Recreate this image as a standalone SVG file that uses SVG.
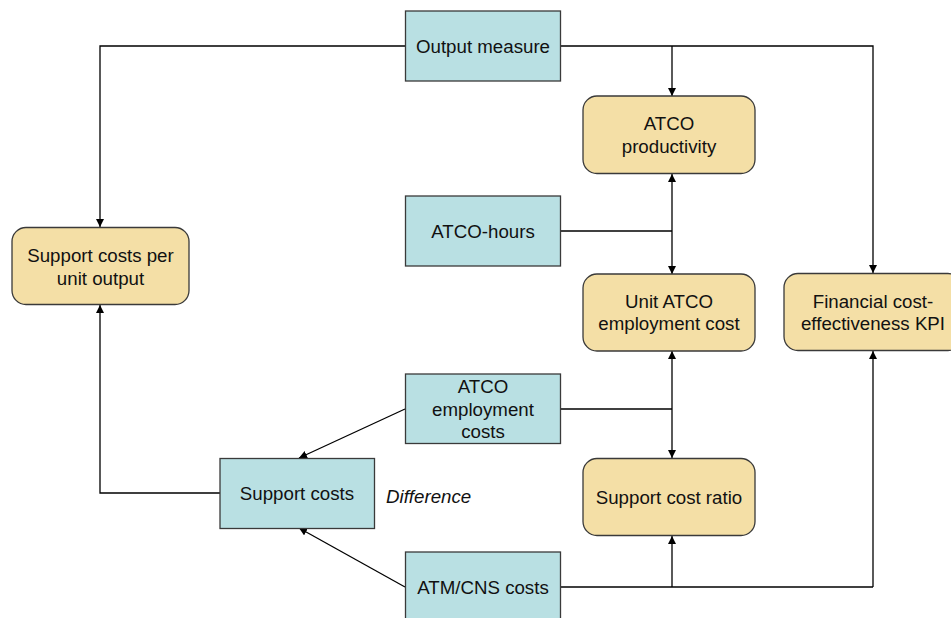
<svg xmlns="http://www.w3.org/2000/svg" width="951" height="618" viewBox="0 0 951 618">
<defs>
<marker id="ah" viewBox="0 0 10 10" refX="10" refY="5" markerWidth="8" markerHeight="8" markerUnits="userSpaceOnUse" orient="auto">
<path d="M0,0 L10,5 L0,10 z" fill="#000"/>
</marker>
<style>
.in{fill:#B9E0E3;stroke:#3a3a3a;stroke-width:1.3}
.kpi{fill:#F4DFA6;stroke:#3a3a3a;stroke-width:1.3}
text{font-family:"Liberation Sans",Arial,sans-serif;font-size:18.7px;fill:#111;text-anchor:middle}
.c{fill:none;stroke:#000;stroke-width:1.3}
.a{marker-end:url(#ah)}
</style>
</defs>
<rect width="951" height="618" fill="#fff"/>
<g id="connectors">
<path class="c" d="M405,46 H100 V227" style="marker-end:url(#ah)"/>
<path class="c" d="M560,46 H873 V273" style="marker-end:url(#ah)"/>
<path class="c a" d="M672,46 V96"/>
<path class="c" d="M560,231 H672"/>
<path class="c a" d="M672,231 V174"/>
<path class="c a" d="M672,231 V274"/>
<path class="c" d="M560,409 H672"/>
<path class="c a" d="M672,409 V351"/>
<path class="c a" d="M672,409 V458"/>
<path class="c a" d="M405,409 L299,458"/>
<path class="c a" d="M405,587 L299,528"/>
<path class="c a" d="M220,493 H100 V305"/>
<path class="c" d="M560,587 H873"/>
<path class="c a" d="M672,587 V536"/>
<path class="c a" d="M873,587 V351"/>
</g>
<g id="output-measure"><rect class="in" x="405.5" y="11" width="155" height="70"/><text x="483" y="52.7">Output measure</text></g>
<g id="atco-hours"><rect class="in" x="405.5" y="196" width="155" height="70"/><text x="483" y="237.7">ATCO-hours</text></g>
<g id="atco-employment-costs"><rect class="in" x="405.5" y="374" width="155" height="69.5"/><text x="483" y="393.3">ATCO</text><text x="483" y="415.8">employment</text><text x="483" y="438.3">costs</text></g>
<g id="atm-cns-costs"><rect class="in" x="405.5" y="552" width="155" height="70"/><text x="483" y="593.7">ATM/CNS costs</text></g>
<g id="support-costs"><rect class="in" x="220" y="458.5" width="154.5" height="70"/><text x="297" y="500">Support costs</text></g>
<text x="386" y="502.7" style="font-style:italic;text-anchor:start">Difference</text>
<g id="atco-productivity"><rect class="kpi" x="583" y="96" width="172" height="77.5" rx="14"/><text x="669" y="130.2">ATCO</text><text x="669" y="152.7">productivity</text></g>
<g id="unit-atco-employment-cost"><rect class="kpi" x="583" y="274" width="172" height="77" rx="14"/><text x="669" y="307.8">Unit ATCO</text><text x="669" y="330.3">employment cost</text></g>
<g id="support-cost-ratio"><rect class="kpi" x="583" y="458.5" width="172" height="77" rx="14"/><text x="669" y="503.7">Support cost ratio</text></g>
<g id="support-costs-per-unit-output"><rect class="kpi" x="12" y="227.5" width="177" height="77" rx="14"/><text x="100.5" y="262">Support costs per</text><text x="100.5" y="284.5">unit output</text></g>
<g id="financial-kpi"><rect class="kpi" x="784" y="273.5" width="178" height="77" rx="14"/><text x="873" y="307.5">Financial cost-</text><text x="873" y="330">effectiveness KPI</text></g>
</svg>
